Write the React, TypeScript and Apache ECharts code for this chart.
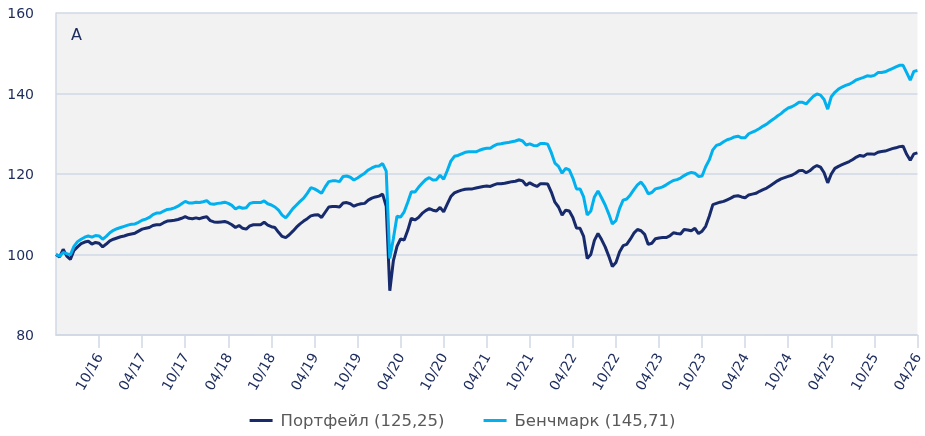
import React, { useEffect, useRef } from "react";
import * as echarts from "echarts";

// Half-month sampling, starting at the axis origin (x in months)
const portfolio: number[] = [
  100.0, 99.4, 101.3, 99.6, 98.8, 101.0, 101.9, 102.7, 103.1, 103.3,
  102.6, 103.0, 102.8, 101.9, 102.6, 103.4, 103.8, 104.1, 104.4, 104.6,
  104.9, 105.1, 105.3, 105.8, 106.3, 106.5, 106.7, 107.2, 107.4, 107.4,
  107.9, 108.3, 108.4, 108.5, 108.7, 109.0, 109.4, 109.0, 108.9, 109.1,
  108.9, 109.2, 109.4, 108.4, 108.1, 108.0, 108.1, 108.2, 107.9, 107.4,
  106.7, 107.2, 106.5, 106.3, 107.1, 107.4, 107.4, 107.4, 108.0, 107.3,
  106.9, 106.7, 105.5, 104.5, 104.2, 104.9, 105.8, 106.8, 107.6, 108.3,
  108.9, 109.6, 109.8, 109.9, 109.2, 110.5, 111.8, 111.9, 111.9, 111.8,
  112.8, 112.9, 112.6, 112.0, 112.4, 112.6, 112.7, 113.5, 114.0, 114.3,
  114.5, 115.0, 112.0, 91.0, 98.5, 102.0, 103.9, 103.6, 106.0, 109.0,
  108.6, 109.2, 110.2, 110.9, 111.4, 111.0, 110.8, 111.7, 110.6, 112.5,
  114.4, 115.3, 115.7, 116.0, 116.2, 116.3, 116.3, 116.5, 116.7, 116.9,
  117.0, 116.9, 117.3, 117.6, 117.6, 117.7, 117.9, 118.1, 118.2, 118.5,
  118.3, 117.2, 117.8, 117.3, 116.9, 117.6, 117.6, 117.5, 115.5, 113.0,
  111.8, 109.8, 111.0, 110.8, 109.2, 106.6, 106.5, 104.5, 99.0, 100.0,
  103.5, 105.2, 103.7, 101.9, 99.6, 97.0, 98.0, 100.6, 102.2, 102.5,
  103.8, 105.3, 106.2, 105.9, 105.0, 102.5, 102.8, 103.9, 104.1, 104.2,
  104.2, 104.6, 105.4, 105.2, 105.1, 106.2, 106.1, 105.9, 106.5, 105.2,
  105.8, 107.0, 109.5, 112.4, 112.7, 113.0, 113.2, 113.6, 114.0, 114.5,
  114.6, 114.3, 114.1, 114.8, 115.0, 115.2, 115.7, 116.1, 116.5, 117.1,
  117.7, 118.3, 118.8, 119.1, 119.4, 119.7, 120.2, 120.8, 120.9, 120.3,
  120.8, 121.6, 122.1, 121.7, 120.3, 117.8, 120.0, 121.4, 121.9, 122.3,
  122.7, 123.1, 123.6, 124.2, 124.6, 124.4, 125.0, 125.0, 124.9, 125.4,
  125.6, 125.7, 126.0, 126.3, 126.5, 126.8, 126.9, 124.9, 123.4, 125.0,
  125.25,
];

const benchmark: number[] = [
  100.0, 99.6, 100.5, 100.2, 99.9, 102.0, 103.2, 103.8, 104.3, 104.6,
  104.3, 104.7, 104.6, 103.8, 104.5, 105.4, 106.0, 106.4, 106.7, 107.0,
  107.3, 107.5, 107.6, 108.0, 108.5, 108.8, 109.2, 109.9, 110.3, 110.3,
  110.8, 111.2, 111.3, 111.6, 112.0, 112.6, 113.2, 112.8, 112.8, 113.0,
  112.9, 113.1, 113.4, 112.6, 112.5, 112.7, 112.8, 113.0, 112.7, 112.2,
  111.3, 111.8, 111.5, 111.6, 112.7, 112.9, 112.9, 112.9, 113.3, 112.6,
  112.3, 111.8, 111.0, 109.8, 109.1, 110.2, 111.4, 112.3, 113.2, 114.0,
  115.2, 116.6, 116.3, 115.8, 115.2, 116.8, 118.1, 118.3, 118.3, 118.1,
  119.4, 119.5, 119.2, 118.5, 119.0, 119.6, 120.2, 121.0, 121.5, 121.9,
  122.0, 122.6, 120.7, 99.0, 104.0, 109.5, 109.3, 110.6, 113.0, 115.6,
  115.5, 116.7, 117.7, 118.6, 119.1, 118.5, 118.6, 119.7, 118.7, 120.8,
  123.2, 124.4, 124.6, 125.0, 125.4, 125.5, 125.5, 125.5, 125.9, 126.2,
  126.4, 126.4, 127.0, 127.4, 127.5, 127.7, 127.8, 128.0, 128.2, 128.5,
  128.2, 127.2, 127.5, 127.1, 127.0, 127.6, 127.6, 127.4, 125.3, 122.7,
  121.9, 120.2, 121.4, 121.0, 119.0, 116.3, 116.3, 114.3, 109.8, 110.8,
  114.3, 115.8, 114.1, 112.3, 110.1, 107.6, 108.4, 111.4, 113.5, 113.8,
  114.8, 116.1, 117.3, 118.0, 116.8, 115.1, 115.4, 116.3, 116.5, 116.8,
  117.3, 117.9, 118.4, 118.6, 119.0, 119.6, 120.1, 120.4, 120.2, 119.4,
  119.5, 121.8, 123.5, 126.0, 127.1, 127.4, 128.0, 128.5, 128.8, 129.2,
  129.4, 129.0, 129.0, 130.0, 130.4, 130.8, 131.3, 131.9, 132.4, 133.1,
  133.7, 134.4, 135.0, 135.8, 136.4, 136.7, 137.2, 137.8, 137.8, 137.4,
  138.4, 139.3, 139.9, 139.6, 138.5, 136.1, 139.2, 140.3, 141.1, 141.6,
  142.0, 142.3, 142.8, 143.4, 143.7, 144.0, 144.4, 144.3, 144.5, 145.2,
  145.2, 145.4, 145.8, 146.2, 146.6, 147.0, 147.0, 145.2, 143.3, 145.5,
  145.71,
];

const tickLabels: string[] = [
  "04/16", "10/16", "04/17", "10/17", "04/18", "10/18", "04/19", "10/19",
  "04/20", "10/20", "04/21", "10/21", "04/22", "10/22", "04/23", "10/23",
  "04/24", "10/24", "04/25", "10/25", "04/26",
];

const seriesNames: string[] = ["Портфейл (125,25)", "Бенчмарк (145,71)"];
const panelLabel = "A";

const NAVY = "#172a6b";
const CYAN = "#00b0ef";
const AXIS = "#cfd8e5";
const TEXT = "#1c2b5c";
const FONT = "DejaVu Sans";

export default function App() {
  const ref = useRef<HTMLDivElement>(null);
  useEffect(() => {
    if (!ref.current) return;
    const chart = echarts.init(ref.current, undefined, { renderer: "svg" });
    const toPts = (arr: number[]) => arr.map((v, i) => [i * 0.5, v]);
    chart.setOption({
      animation: false,
      textStyle: { fontFamily: FONT },
      grid: {
        left: 56,
        right: -1,
        top: 13,
        bottom: 101,
        show: true,
        backgroundColor: "#f2f2f2",
        borderWidth: 0,
      },
      graphic: [
        {
          type: "text",
          left: 71,
          top: 26,
          style: { text: panelLabel, fill: TEXT, font: `16px "${FONT}"` },
        },
      ],
      legend: {
        bottom: 2,
        left: "center",
        itemGap: 39,
        itemWidth: 23,
        itemHeight: 3,
        icon: "rect",
        textStyle: {
          color: "#595959",
          fontSize: 16.5,
          fontFamily: FONT,
          padding: [0, 0, 0, 3],
        },
        data: seriesNames,
      },
      xAxis: {
        type: "value",
        min: 0,
        max: 120,
        interval: 6,
        axisLine: { show: true, lineStyle: { color: AXIS, width: 1.5 } },
        axisTick: { show: true, length: 13, lineStyle: { color: AXIS, width: 1.5 } },
        splitLine: { show: false },
        axisLabel: {
          rotate: 60,
          margin: 19,
          color: TEXT,
          fontSize: 14,
          fontFamily: FONT,
          showMinLabel: false,
          formatter: (v: number) => {
            const i = Math.round(v / 6);
            return i === 0 ? "" : tickLabels[i] ?? "";
          },
        },
      },
      yAxis: {
        type: "value",
        min: 80,
        max: 160,
        interval: 20,
        axisLine: { show: true, lineStyle: { color: AXIS, width: 1.5 } },
        axisTick: { show: false },
        splitLine: { show: true, lineStyle: { color: AXIS, width: 1.5 } },
        axisLabel: { color: TEXT, fontSize: 14, fontFamily: FONT, margin: 22 },
      },
      series: [
        {
          name: seriesNames[0],
          type: "line",
          data: toPts(portfolio),
          showSymbol: false,
          color: NAVY,
          lineStyle: { width: 3, color: NAVY },
        },
        {
          name: seriesNames[1],
          type: "line",
          data: toPts(benchmark),
          showSymbol: false,
          color: CYAN,
          lineStyle: { width: 3, color: CYAN },
        },
      ],
    });
    return () => chart.dispose();
  }, []);
  return (
    <div
      ref={ref}
      style={{ position: "fixed", left: 0, top: 0, width: 925, height: 436 }}
    />
  );
}
